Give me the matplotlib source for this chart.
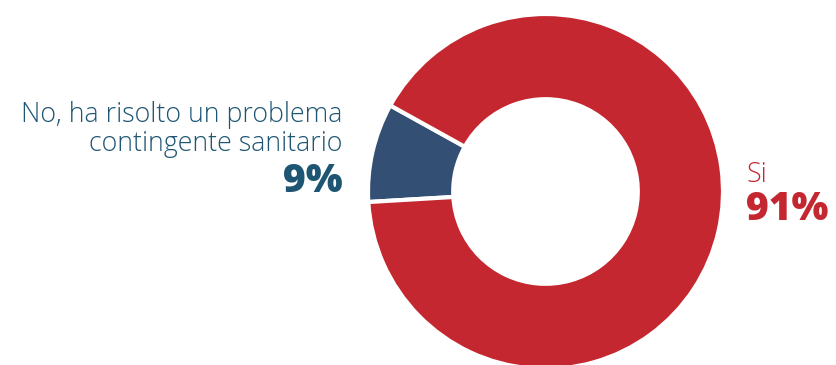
import matplotlib
matplotlib.use('Agg')
import matplotlib.pyplot as plt

# data
labels = ['No, ha risolto un problema\ncontingente sanitario', 'Si']
shares = [9, 91]
pct_labels = ['9%', '91%']
colors = ['#344f74', '#c4272f']
text_colors = ['#1d5573', '#c4272f']

W, H = 837, 365
fig = plt.figure(figsize=(W / 100, H / 100), dpi=100)
fig.patch.set_facecolor('white')

# place donut axes so that radius 1 == 177.5 px, centre at (545.5, 191.5) from top
cx, cy, r = 545.5, 191.5, 177.5
ax = fig.add_axes([(cx - r) / W, (H - cy - r) / H, 2 * r / W, 2 * r / H])
ax.pie(shares, colors=colors, startangle=151, counterclock=True, radius=1,
       wedgeprops=dict(width=0.48, edgecolor='white', linewidth=3))
ax.set_xlim(-1, 1)
ax.set_ylim(-1, 1)
ax.set_aspect('equal')
ax.axis('off')

font = ['Open Sans', 'DejaVu Sans']

def fy(py):
    return (H - py) / H

# left label
fig.text(342 / W, fy(122), 'No, ha risolto un problema', ha='right', va='baseline',
         fontsize=19.3, fontweight='light', color=text_colors[0], family=font)
fig.text(342 / W, fy(151), 'contingente sanitario', ha='right', va='baseline',
         fontsize=19.3, fontweight='light', color=text_colors[0], family=font)
fig.text(343 / W, fy(192), pct_labels[0], ha='right', va='baseline',
         fontsize=28, fontweight='heavy', color=text_colors[0], family=font)

# right label
fig.text(747 / W, fy(182), labels[1], ha='left', va='baseline',
         fontsize=19.3, fontweight='light', color=text_colors[1], family=font)
fig.text(746 / W, fy(220), pct_labels[1], ha='left', va='baseline',
         fontsize=28, fontweight='heavy', color=text_colors[1], family=font)

fig.savefig('out.png', dpi=100)
